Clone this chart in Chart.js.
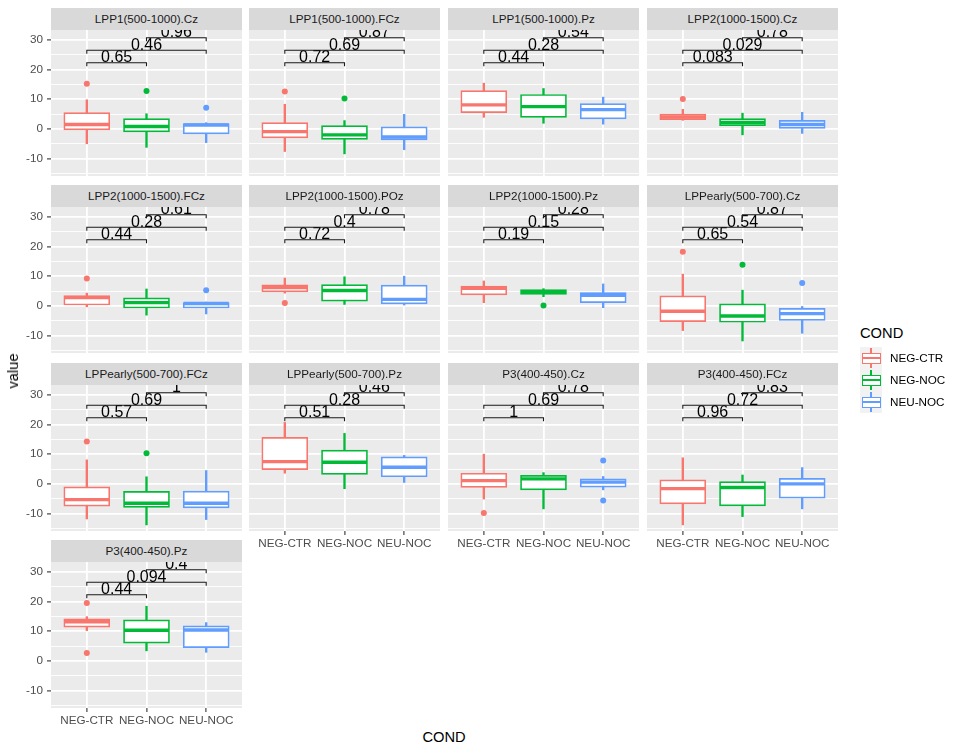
<!DOCTYPE html>
<html>
<head>
<meta charset="utf-8">
<script src="https://cdn.jsdelivr.net/npm/chart.js@4.4.0/dist/chart.umd.min.js"></script>
<style>
    body { margin: 0; background: #fff; font-family: "Liberation Sans", Arial, sans-serif; }
    #page { position: relative; width: 959px; height: 754px; overflow: hidden; }
    #page canvas { position: absolute; }
    .strip { position: absolute; height: 22px; line-height: 22px; background: #D9D9D9; color: #1A1A1A; font-size: 11.7px; text-align: center; z-index: 2; }
    .titulo { position: absolute; color: #000; font-size: 14.7px; white-space: nowrap; }
    .clave { position: absolute; width: 22px; height: 22px; background: #F2F2F2; }
    .clave div { position: absolute; box-sizing: border-box; }
    .etiqueta { position: absolute; font-size: 11.7px; color: #000; line-height: 22px; }
</style>
</head>
<body>
<div id="page"></div>
<script>
const facetas = ['LPP1(500-1000).Cz', 'LPP1(500-1000).FCz', 'LPP1(500-1000).Pz', 'LPP2(1000-1500).Cz',
    'LPP2(1000-1500).FCz', 'LPP2(1000-1500).POz', 'LPP2(1000-1500).Pz', 'LPPearly(500-700).Cz',
    'LPPearly(500-700).FCz', 'LPPearly(500-700).Pz', 'P3(400-450).Cz', 'P3(400-450).FCz', 'P3(400-450).Pz']
const grupos = ['NEG-CTR', 'NEG-NOC', 'NEU-NOC']
const colores = ['#F8766D', '#00BA38', '#619CFF']

// [bigote inferior, Q1, mediana, Q3, bigote superior] por faceta
const statsCtr = [
    [-5.0, -0.3, 1.5, 5.5, 9.8], [-7.6, -3.0, -0.9, 2.1, 8.3], [3.9, 5.5, 8.1, 12.9, 15.4], [2.9, 3.1, 4.0, 5.0, 6.6],
    [-0.3, 0.3, 2.8, 3.5, 4.3], [4.3, 4.7, 6.2, 7.1, 9.4], [1.1, 3.7, 5.9, 6.7, 8.4], [-8.3, -5.3, -1.8, 3.4, 10.7],
    [-11.8, -7.5, -5.3, -1.0, 8.1], [3.6, 4.8, 7.5, 15.7, 20.7], [-5.1, -1.2, 1.1, 3.6, 10.0], [-13.8, -6.7, -1.6, 1.4, 8.8],
    [10.2, 11.4, 13.2, 14.2, 14.9]
]
const statsNoc = [
    [-6.2, -1.0, 0.8, 3.5, 5.1], [-8.4, -3.5, -2.0, 1.1, 2.8], [1.9, 3.9, 7.5, 11.6, 13.6], [-2.0, 1.1, 2.2, 3.5, 5.3],
    [-3.1, -0.7, 1.1, 2.7, 5.7], [0.5, 1.6, 5.2, 7.2, 9.8], [3.1, 3.9, 4.7, 5.5, 5.8], [-11.8, -5.5, -3.4, 0.7, 5.3],
    [-13.8, -7.9, -6.5, -2.5, 2.4], [-1.6, 3.2, 7.3, 11.4, 17.0], [-8.4, -2.0, 1.7, 2.9, 3.8], [-11.0, -7.4, -1.2, 0.8, 3.0],
    [3.4, 6.0, 10.3, 13.8, 18.4]
]
const statsNeu = [
    [-4.6, -1.7, 1.3, 1.8, 2.1], [-7.0, -3.7, -2.7, 0.7, 4.9], [1.6, 3.4, 6.5, 8.5, 10.7], [-1.5, 0.2, 1.5, 2.9, 5.6],
    [-2.7, -0.7, 0.8, 1.1, 1.3], [0.0, 0.7, 2.2, 7.0, 10.0], [-0.6, 1.1, 3.6, 4.5, 7.4], [-9.2, -4.9, -2.6, -0.8, -0.2],
    [-12.0, -8.1, -6.5, -2.4, 4.5], [0.5, 2.4, 5.6, 9.1, 9.6], [-2.0, -1.1, 0.6, 1.7, 2.5], [-8.4, -4.8, 0.0, 1.9, 5.5],
    [2.9, 4.5, 10.4, 11.8, 12.9]
]
const atipicosCtr = [[15.2], [12.6], [], [10.1], [9.2], [1.0], [], [18.2], [14.3], [], [-9.8], [], [19.5, 2.7]]
const atipicosNoc = [[12.8], [10.2], [], [], [], [], [0.1], [13.9], [10.3], [], [], [], []]
const atipicosNeu = [[7.1], [], [], [], [5.3], [], [], [7.7], [], [], [7.9, -5.6], [], []]

// valores p de las comparaciones
const pCtrNoc = ['0.65', '0.72', '0.44', '0.083', '0.44', '0.72', '0.19', '0.65', '0.57', '0.51', '1', '0.96', '0.44']
const pCtrNeu = ['0.46', '0.69', '0.28', '0.029', '0.28', '0.4', '0.15', '0.54', '0.69', '0.28', '0.69', '0.72', '0.094']
const pNocNeu = ['0.96', '0.87', '0.54', '0.78', '0.61', '0.78', '0.28', '0.87', '1', '0.46', '0.78', '0.83', '0.4']
const comparaciones = [[1, 2], [1, 3], [2, 3]]
const alturaCorchete = [22.3, 26.5, 30.7]
const puntaCorchete = 1.2

const ticksY = [-15, -10, -5, 0, 5, 10, 15, 20, 25, 30]
const yMin = -15.85
const yMax = 33.3

const statsPorGrupo = [statsCtr, statsNoc, statsNeu]
const atipicosPorGrupo = [atipicosCtr, atipicosNoc, atipicosNeu]
const pPorComparacion = [pCtrNoc, pCtrNeu, pNocNeu]

// geometria de la rejilla de paneles
const colIzq = [51, 249, 448, 647]
const filaSup = [30, 207, 385, 562]
const anchoPanel = 191, altoPanel = 146, anchoEje = 48, altoEje = 24
const fuente = '"Liberation Sans", Arial, sans-serif'

Chart.defaults.font.family = fuente

const page = document.getElementById('page')

const pluginPanel = {
    id: 'panel',
    beforeDraw(chart) {
        const { ctx, chartArea } = chart
        ctx.save()
        ctx.fillStyle = '#EBEBEB'
        ctx.fillRect(chartArea.left, chartArea.top, chartArea.right - chartArea.left, chartArea.bottom - chartArea.top)
        ctx.restore()
    },
    afterDatasetsDraw(chart) {
        const { ctx, chartArea, scales: { x, y } } = chart
        const i = chart.options.plugins.panel.indice
        ctx.save()
        ctx.beginPath()
        ctx.rect(chartArea.left, chartArea.top, chartArea.right - chartArea.left, chartArea.bottom - chartArea.top)
        ctx.clip()
        ctx.strokeStyle = '#1a1a1a'
        ctx.lineWidth = 1.1
        ctx.fillStyle = '#000'
        ctx.font = '16px ' + fuente
        ctx.textAlign = 'center'
        ctx.textBaseline = 'alphabetic'
        comparaciones.forEach(([a, b], j) => {
            const x1 = x.getPixelForValue(a)
            const x2 = x.getPixelForValue(b)
            const yp = y.getPixelForValue(alturaCorchete[j])
            const yt = y.getPixelForValue(alturaCorchete[j] - puntaCorchete)
            ctx.beginPath()
            ctx.moveTo(x1, yt)
            ctx.lineTo(x1, yp)
            ctx.lineTo(x2, yp)
            ctx.lineTo(x2, yt)
            ctx.stroke()
            ctx.fillText(pPorComparacion[j][i], (x1 + x2) / 2, yp - 0.5)
        })
        ctx.restore()
    }
}

const generarPanel = (i) => {
    const fila = Math.floor(i / 4)
    const col = i % 4
    const verY = col === 0
    const verX = i >= 9

    let strip = document.createElement('div')
    strip.className = 'strip'
    strip.style.left = colIzq[col] + 'px'
    strip.style.top = (filaSup[fila] - 22) + 'px'
    strip.style.width = anchoPanel + 'px'
    strip.textContent = facetas[i]
    page.appendChild(strip)

    let lienzo = document.createElement('canvas')
    lienzo.width = anchoEje + anchoPanel
    lienzo.height = altoPanel + altoEje
    lienzo.style.left = (colIzq[col] - anchoEje) + 'px'
    lienzo.style.top = filaSup[fila] + 'px'
    page.appendChild(lienzo)

    const atipicos = []
    const colAtipicos = []
    atipicosPorGrupo.forEach((lista, k) => {
        lista[i].forEach(v => {
            atipicos.push({ x: k + 1, y: v })
            colAtipicos.push(colores[k])
        })
    })

    new Chart(lienzo, {
        type: 'bar',
        data: {
            datasets: [
                {
                    type: 'scatter',
                    label: 'atipicos',
                    data: atipicos,
                    pointBackgroundColor: colAtipicos,
                    pointBorderWidth: 0,
                    pointRadius: 3,
                    order: 0
                },
                {
                    type: 'scatter',
                    label: 'mediana',
                    data: grupos.map((g, k) => ({ x: k + 1, y: statsPorGrupo[k][i][2] })),
                    pointStyle: 'line',
                    pointRadius: 22.5,
                    pointBorderColor: colores,
                    pointBorderWidth: 3.4,
                    order: 1
                },
                {
                    label: 'caja',
                    data: grupos.map((g, k) => ({ x: k + 1, y: [statsPorGrupo[k][i][1], statsPorGrupo[k][i][3]] })),
                    backgroundColor: '#fff',
                    borderColor: colores,
                    borderWidth: 1.7,
                    borderSkipped: false,
                    barThickness: 46,
                    grouped: false,
                    order: 2
                },
                {
                    label: 'bigote',
                    data: grupos.map((g, k) => ({ x: k + 1, y: [statsPorGrupo[k][i][0], statsPorGrupo[k][i][4]] })),
                    backgroundColor: colores,
                    borderWidth: 0,
                    barThickness: 1.7,
                    grouped: false,
                    order: 3
                }
            ]
        },
        options: {
            responsive: false,
            animation: false,
            events: [],
            layout: { padding: 0, autoPadding: false },
            plugins: {
                legend: { display: false },
                tooltip: { enabled: false },
                panel: { indice: i }
            },
            scales: {
                x: {
                    type: 'linear',
                    min: 0.4,
                    max: 3.6,
                    offset: false,
                    afterBuildTicks: s => { s.ticks = grupos.map((g, k) => ({ value: k + 1 })) },
                    afterFit: s => { s.height = altoEje; s.paddingLeft = 0; s.paddingRight = 0 },
                    border: { display: false },
                    grid: { offset: false, color: '#fff', lineWidth: 1.8, drawTicks: verX, tickLength: 4, tickColor: '#333', tickWidth: 1.1 },
                    ticks: {
                        display: verX, autoSkip: false, maxRotation: 0, padding: 2,
                        color: '#4D4D4D', font: { size: 11.7 },
                        callback: v => grupos[v - 1]
                    }
                },
                y: {
                    min: yMin,
                    max: yMax,
                    afterBuildTicks: s => { s.ticks = ticksY.map(v => ({ value: v })) },
                    afterFit: s => { s.width = anchoEje; s.paddingTop = 0; s.paddingBottom = 0 },
                    border: { display: false },
                    grid: {
                        color: '#fff',
                        lineWidth: c => (c.tick && c.tick.value % 10 === 0) ? 1.8 : 0.9,
                        drawTicks: verY,
                        tickLength: 4,
                        tickWidth: 1.1,
                        tickColor: c => (c.tick && c.tick.value % 10 === 0) ? '#333' : 'rgba(0,0,0,0)'
                    },
                    ticks: {
                        display: verY, autoSkip: false, padding: 4,
                        color: '#4D4D4D', font: { size: 11.7 },
                        callback: v => v % 10 === 0 ? String(v) : ''
                    }
                }
            }
        },
        plugins: [pluginPanel]
    })
}

facetas.forEach((f, i) => generarPanel(i))

// titulos de ejes
let tituloY = document.createElement('div')
tituloY.className = 'titulo'
tituloY.textContent = 'value'
tituloY.style.left = '13px'
tituloY.style.top = '371px'
tituloY.style.transform = 'translate(-50%, -50%) rotate(-90deg)'
page.appendChild(tituloY)

let tituloX = document.createElement('div')
tituloX.className = 'titulo'
tituloX.textContent = 'COND'
tituloX.style.left = '444px'
tituloX.style.top = '737px'
tituloX.style.transform = 'translate(-50%, -50%)'
page.appendChild(tituloX)

// leyenda
let tituloLeyenda = document.createElement('div')
tituloLeyenda.className = 'titulo'
tituloLeyenda.textContent = 'COND'
tituloLeyenda.style.left = '860px'
tituloLeyenda.style.top = '333px'
tituloLeyenda.style.transform = 'translateY(-50%)'
page.appendChild(tituloLeyenda)

grupos.forEach((g, k) => {
    const top = 347 + k * 22
    let clave = document.createElement('div')
    clave.className = 'clave'
    clave.style.left = '860px'
    clave.style.top = top + 'px'
    clave.innerHTML =
        `<div style="left:10.3px;top:1px;width:1.4px;height:20px;background:${colores[k]}"></div>` +
        `<div style="left:1.5px;top:5.5px;width:19px;height:11px;background:#fff;border:1.4px solid ${colores[k]}"></div>` +
        `<div style="left:1.5px;top:10.2px;width:19px;height:1.6px;background:${colores[k]}"></div>`
    page.appendChild(clave)

    let etiqueta = document.createElement('div')
    etiqueta.className = 'etiqueta'
    etiqueta.textContent = g
    etiqueta.style.left = '890px'
    etiqueta.style.top = top + 'px'
    page.appendChild(etiqueta)
})
</script>
</body>
</html>
